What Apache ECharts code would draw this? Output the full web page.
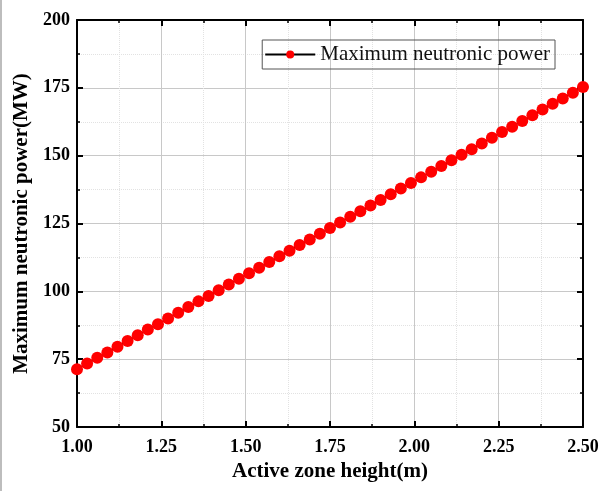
<!DOCTYPE html>
<html>
<head>
    <meta charset="UTF-8" />
    <title>Maximum neutronic power</title>
    <script src="https://cdn.jsdelivr.net/npm/echarts@6/dist/echarts.min.js"></script>
    <style>
        html, body { margin: 0; padding: 0; background: #fff; }
        #main {
            width: 605px;
            height: 491px;
            box-sizing: border-box;
            border-left: 2px solid #bdbdbd;
        }
    </style>
</head>
<body>
<div id="main"></div>
<script>
var chartDom = document.getElementById('main');
var myChart = echarts.init(chartDom);

/* Active zone height (m), one point every 0.03 m */
var heights = [
    1.00, 1.03, 1.06, 1.09, 1.12, 1.15, 1.18, 1.21, 1.24, 1.27,
    1.30, 1.33, 1.36, 1.39, 1.42, 1.45, 1.48, 1.51, 1.54, 1.57,
    1.60, 1.63, 1.66, 1.69, 1.72, 1.75, 1.78, 1.81, 1.84, 1.87,
    1.90, 1.93, 1.96, 1.99, 2.02, 2.05, 2.08, 2.11, 2.14, 2.17,
    2.20, 2.23, 2.26, 2.29, 2.32, 2.35, 2.38, 2.41, 2.44, 2.47,
    2.50
];

/* Maximum neutronic power (MW) */
var power = [
    71.3, 73.4, 75.5, 77.5, 79.6, 81.7, 83.8, 85.9, 87.9, 90.0,
    92.1, 94.2, 96.3, 98.3, 100.4, 102.5, 104.6, 106.7, 108.7, 110.8,
    112.9, 115.0, 117.1, 119.1, 121.2, 123.3, 125.4, 127.5, 129.5, 131.6,
    133.7, 135.8, 137.9, 139.9, 142.0, 144.1, 146.2, 148.3, 150.3, 152.4,
    154.5, 156.6, 158.7, 160.7, 162.8, 164.9, 167.0, 169.1, 171.1, 173.2,
    175.3
];

var seriesName = 'Maximum neutronic power';
var xName = 'Active zone height(m)';
var yName = 'Maximum neutronic power(MW)';

var points = heights.map(function (h, i) { return [h, power[i]]; });

var serif = 'Liberation Serif, Times New Roman, serif';

var axisLine = { show: true, onZero: false, lineStyle: { color: '#000', width: 2 } };
var tick = { show: true, inside: true, length: 6, lineStyle: { color: '#000', width: 2 } };
var minorTick = { show: true, splitNumber: 2, length: 3, lineStyle: { color: '#000', width: 1.5 } };

var option = {
    backgroundColor: '#fff',
    animation: false,
    grid: { left: 75, right: 22, top: 20, bottom: 64 },
    legend: {
        data: [seriesName],
        top: 40,
        right: 50,
        padding: [4, 5, 4, 2],
        itemWidth: 50,
        itemHeight: 10,
        itemGap: 6,
        borderColor: '#555',
        borderWidth: 1,
        borderRadius: 0,
        textStyle: { fontFamily: serif, fontSize: 21, color: '#111' }
    },
    xAxis: [{
        type: 'value',
        min: 1.0,
        max: 2.5,
        interval: 0.25,
        name: xName,
        nameLocation: 'middle',
        nameGap: 34,
        nameTextStyle: { fontFamily: serif, fontSize: 21, fontWeight: 'bold', color: '#000' },
        axisLine: axisLine,
        axisTick: tick,
        minorTick: minorTick,
        axisLabel: {
            fontFamily: serif, fontSize: 18, fontWeight: 'bold', color: '#000', margin: 11,
            formatter: function (v) { return v.toFixed(2); }
        },
        splitLine: { show: true, lineStyle: { color: '#c8c8c8', width: 1 } },
        minorSplitLine: { show: true, lineStyle: { color: '#e2e2e2', width: 1, type: 'dotted' } }
    }, {
        type: 'value',
        position: 'top',
        min: 1.0,
        max: 2.5,
        interval: 0.25,
        axisLine: axisLine,
        axisTick: tick,
        minorTick: minorTick,
        axisLabel: { show: false },
        splitLine: { show: false }
    }],
    yAxis: [{
        type: 'value',
        min: 50,
        max: 200,
        interval: 25,
        name: yName,
        nameLocation: 'middle',
        nameGap: 36,
        nameTextStyle: { fontFamily: serif, fontSize: 21, fontWeight: 'bold', color: '#000' },
        axisLine: axisLine,
        axisTick: tick,
        minorTick: minorTick,
        axisLabel: { fontFamily: serif, fontSize: 18, fontWeight: 'bold', color: '#000', margin: 7 },
        splitLine: { show: true, lineStyle: { color: '#c8c8c8', width: 1 } },
        minorSplitLine: { show: true, lineStyle: { color: '#e2e2e2', width: 1, type: 'dotted' } }
    }, {
        type: 'value',
        position: 'right',
        min: 50,
        max: 200,
        interval: 25,
        axisLine: axisLine,
        axisTick: tick,
        minorTick: minorTick,
        axisLabel: { show: false },
        splitLine: { show: false }
    }],
    series: [{
        name: seriesName,
        type: 'line',
        data: points,
        symbol: 'circle',
        symbolSize: 12,
        itemStyle: { color: '#ff0000' },
        lineStyle: { color: '#000', width: 1.5 },
        clip: false
    }]
};

myChart.setOption(option);
</script>
</body>
</html>
